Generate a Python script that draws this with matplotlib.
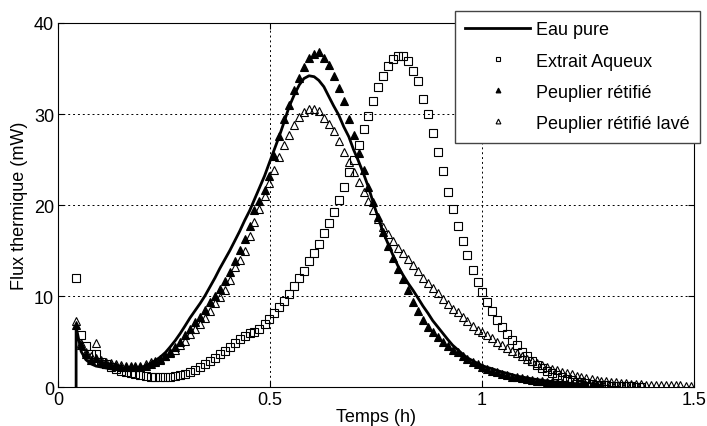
import matplotlib
matplotlib.use("Agg")
import matplotlib.pyplot as plt

plt.rcParams["font.family"] = ["Liberation Sans", "DejaVu Sans"]
plt.rcParams["font.size"] = 13

# temps d'acquisition (h), commun aux quatre essais
temps = [
    0.042, 0.054, 0.065, 0.077, 0.089, 0.101, 0.112, 0.124, 0.136, 0.147,
    0.159, 0.171, 0.182, 0.194, 0.206, 0.218, 0.229, 0.241, 0.253, 0.264,
    0.276, 0.288, 0.299, 0.311, 0.323, 0.335, 0.346, 0.358, 0.370, 0.381,
    0.393, 0.405, 0.416, 0.428, 0.440, 0.452, 0.463, 0.475, 0.487, 0.498,
    0.510, 0.522, 0.533, 0.545, 0.557, 0.569, 0.580, 0.592, 0.604, 0.615,
    0.627, 0.639, 0.650, 0.662, 0.674, 0.686, 0.697, 0.709, 0.721, 0.732,
    0.744, 0.756, 0.767, 0.779, 0.791, 0.803, 0.814, 0.826, 0.838, 0.849,
    0.861, 0.873, 0.884, 0.896, 0.908, 0.920, 0.931, 0.943, 0.955, 0.966,
    0.978, 0.990, 1.001, 1.013, 1.025, 1.037, 1.048, 1.060, 1.072, 1.083,
    1.095, 1.107, 1.118, 1.130, 1.142, 1.154, 1.165, 1.177, 1.189, 1.200,
    1.212, 1.224, 1.235, 1.247, 1.259, 1.271, 1.282, 1.294, 1.306, 1.317,
    1.329, 1.341, 1.352, 1.364, 1.376, 1.388, 1.399, 1.411, 1.423, 1.434,
    1.446, 1.458, 1.469, 1.481, 1.493,
]

# flux thermique (mW)
eau_pure = [
    0.0, 6.6, 3.9, 3.0, 2.55, 2.3, 2.2, 2.1, 2.0, 1.92, 1.9,
    1.9, 1.95, 2.0, 2.15, 2.3, 2.6, 2.9, 3.3, 3.8, 4.4,
    5.1, 5.9, 6.7, 7.6, 8.4, 9.2, 10.0, 11.0, 12.0, 13.0,
    14.0, 15.0, 16.0, 17.1, 18.3, 19.4, 20.6, 21.9, 23.2, 24.6,
    26.1, 27.6, 29.1, 30.8, 32.1, 33.2, 33.9, 34.2, 34.1, 33.7,
    33.0, 31.9, 30.9, 29.9, 28.6, 27.5, 26.1, 24.8, 23.4, 22.0,
    20.2, 18.5, 17.0, 15.7, 14.4, 13.2, 12.3, 11.4, 10.6, 9.8,
    8.9, 8.1, 7.3, 6.6, 5.9, 5.2, 4.6, 4.1, 3.6, 3.2,
    2.9, 2.6, 2.35, 2.15, 2.0, 1.8, 1.65, 1.5, 1.35, 1.2,
    1.1, 1.0, 0.9, 0.82, 0.74, 0.67, 0.6, 0.54, 0.49, 0.44,
    0.4, 0.36, 0.33, 0.3,
]

extrait_aqueux = [
    12.0, 5.7, 4.5, 3.6, 3.6, 2.8, 2.5, 2.2, 2.0, 1.8,
    1.65, 1.5, 1.4, 1.3, 1.2, 1.15, 1.1, 1.1, 1.1, 1.15,
    1.2, 1.3, 1.45, 1.65, 1.9, 2.2, 2.5, 2.85, 3.2, 3.6,
    4.0, 4.4, 4.8, 5.3, 5.6, 5.9, 6.1, 6.4, 6.9, 7.5,
    8.1, 8.8, 9.5, 10.2, 11.1, 12.0, 12.8, 13.8, 14.7, 15.7,
    16.9, 18.0, 19.2, 20.5, 22.0, 23.6, 25.0, 26.6, 28.3, 29.8,
    31.4, 33.0, 34.2, 35.3, 36.0, 36.4, 36.4, 35.8, 34.7, 33.6,
    31.6, 30.0, 27.9, 25.8, 23.7, 21.4, 19.6, 17.7, 16.0, 14.5,
    12.9, 11.5, 10.4, 9.3, 8.3, 7.4, 6.6, 5.8, 5.2, 4.6,
    3.9, 3.4, 2.9, 2.45, 2.1, 1.75, 1.5, 1.3, 1.1, 0.9,
    0.75, 0.6, 0.5, 0.4, 0.33, 0.27, 0.22, 0.18, 0.15, 0.12,
    0.1, 0.08, 0.06, 0.05, 0.04,
]

peuplier_retifie = [
    6.8, 4.6, 3.6, 3.0, 3.2, 2.7, 2.5, 2.4, 2.3, 2.25,
    2.2, 2.2, 2.2, 2.25, 2.35, 2.5, 2.7, 3.0, 3.4, 3.9,
    4.4, 5.0, 5.7, 6.4, 7.1, 7.7, 8.5, 9.3, 10.0, 10.8,
    11.6, 12.6, 13.8, 15.1, 16.3, 17.7, 19.4, 20.4, 21.6, 23.2,
    25.4, 27.6, 29.4, 31.0, 32.6, 34.0, 35.2, 36.1, 36.6, 36.8,
    36.2, 35.4, 34.2, 32.9, 31.4, 29.5, 27.7, 25.7, 23.9, 22.0,
    20.3, 18.7, 17.0, 15.5, 14.2, 13.0, 11.9, 10.7, 9.3, 8.4,
    7.4, 6.6, 6.0, 5.5, 5.0, 4.5, 4.1, 3.8, 3.4, 3.1,
    2.8, 2.5, 2.2, 2.0, 1.8, 1.6, 1.45, 1.3, 1.15, 1.05,
    0.95, 0.85, 0.77, 0.7, 0.62, 0.56, 0.5, 0.45, 0.4, 0.36,
    0.32, 0.29, 0.26, 0.23, 0.21, 0.19, 0.17,
]

peuplier_lave = [
    7.3, 4.8, 3.9, 3.4, 4.8, 3.0, 2.8, 2.65, 2.5, 2.4,
    2.35, 2.3, 2.3, 2.35, 2.5, 2.7, 2.9, 3.1, 3.4, 3.7,
    4.1, 4.6, 5.1, 5.8, 6.4, 6.9, 7.6, 8.4, 9.2, 9.9,
    10.7, 11.8, 13.2, 14.0, 15.0, 16.6, 18.1, 19.6, 21.0, 22.4,
    23.8, 25.3, 26.6, 27.7, 28.8, 29.7, 30.2, 30.5, 30.5, 30.3,
    29.6, 28.9, 28.1, 27.0, 25.8, 24.7, 23.6, 22.5, 21.4, 20.4,
    19.4, 18.5, 17.6, 16.8, 16.0, 15.3, 14.7, 14.1, 13.4, 12.8,
    12.0, 11.4, 10.9, 10.3, 9.7, 9.1, 8.6, 8.2, 7.7, 7.2,
    6.7, 6.3, 6.0, 5.7, 5.4, 5.0, 4.6, 4.3, 4.0, 3.7,
    3.4, 3.1, 2.9, 2.6, 2.4, 2.2, 2.0, 1.85, 1.7, 1.55,
    1.4, 1.25, 1.1, 1.0, 0.9, 0.8, 0.7, 0.62, 0.55, 0.5,
    0.45, 0.4, 0.36, 0.33, 0.3, 0.27, 0.25, 0.23, 0.21, 0.2,
    0.19, 0.18, 0.17, 0.16, 0.15,
]

labels = ["Eau pure", "Extrait Aqueux", "Peuplier rétifié", "Peuplier rétifié lavé"]

fig = plt.figure(figsize=(7.07, 4.27), dpi=100)
ax = fig.add_axes([0.0825, 0.0913, 0.8985, 0.8525])

# la courbe démarre par un pic vertical au temps initial
t_eau = [temps[0]] + temps[:len(eau_pure) - 1]
ax.plot(t_eau, eau_pure, color="k", lw=2, label=labels[0])

ms = 5.3
ax.plot(temps[:len(extrait_aqueux)], extrait_aqueux, ls="none", marker="s",
        ms=ms, mfc="none", mec="k", mew=0.8, label=labels[1])
ax.plot(temps[:len(peuplier_retifie)], peuplier_retifie, ls="none", marker="^",
        ms=ms, mfc="k", mec="k", mew=0.8, label=labels[2])
ax.plot(temps[:len(peuplier_lave)], peuplier_lave, ls="none", marker="^",
        ms=ms, mfc="none", mec="k", mew=0.8, label=labels[3])

ax.set_xlim(0, 1.5)
ax.set_ylim(0, 40)
ax.set_xticks([0, 0.5, 1, 1.5])
ax.set_xticklabels(["0", "0.5", "1", "1.5"])
ax.set_yticks([0, 10, 20, 30, 40])
ax.grid(True, color="k", linestyle=(0, (2, 3)), linewidth=0.7)
ax.tick_params(direction="in", top=True, right=True, length=4, width=0.8,
               labelsize=13, pad=3)
for sp in ax.spines.values():
    sp.set_linewidth(0.8)

ax.set_xlabel("Temps (h)", fontsize=13, labelpad=0)
ax.set_ylabel("Flux thermique (mW)", fontsize=13, labelpad=4)

leg = ax.legend(loc="upper right", bbox_to_anchor=(1.0105, 1.034), fontsize=13,
                handlelength=3.6, handletextpad=0.3, labelspacing=0.78,
                borderpad=0.6, borderaxespad=0, markerscale=0.65,
                fancybox=False, framealpha=1)
leg.get_frame().set_edgecolor("#444444")
leg.get_frame().set_linewidth(1.0)

fig.savefig("out.png", dpi=100)
